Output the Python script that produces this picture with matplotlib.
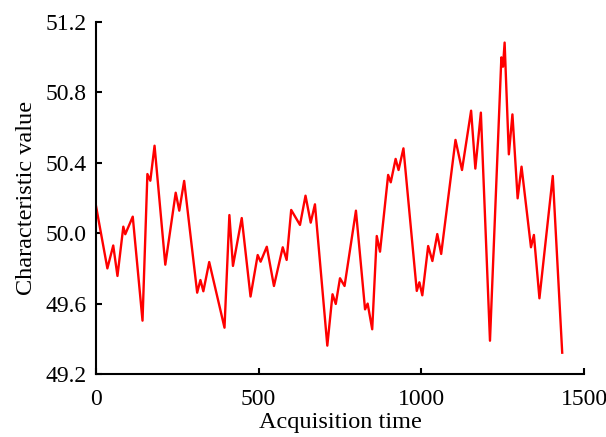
import matplotlib
matplotlib.use('Agg')
from matplotlib import pyplot as plt

# vertices
acq_time = [0, 35, 53, 66, 84, 90, 113, 143, 158, 167, 180, 213, 245, 256,
            271, 311, 321, 330, 348, 395, 410, 421, 448, 475, 497, 506, 525,
            547, 574, 586, 600, 627, 644, 660, 673, 711, 727, 737, 750, 764,
            799, 827, 835, 849, 863, 873, 898, 906, 921, 930, 945, 986, 994,
            1003, 1021, 1034, 1049, 1061, 1105, 1125, 1153, 1166, 1183, 1211,
            1246, 1251, 1256, 1269, 1280, 1296, 1308, 1337, 1346, 1363, 1404,
            1433]
char_value = [50.155, 49.80, 49.93, 49.757, 50.037, 49.994, 50.094, 49.503,
              50.336, 50.298, 50.497, 49.821, 50.23, 50.128, 50.297, 49.662,
              49.734, 49.67, 49.836, 49.463, 50.103, 49.814, 50.086, 49.64,
              49.876, 49.838, 49.923, 49.70, 49.92, 49.848, 50.132, 50.047,
              50.213, 50.06, 50.164, 49.361, 49.653, 49.598, 49.744, 49.70,
              50.128, 49.567, 49.60, 49.454, 49.984, 49.895, 50.331, 50.289,
              50.422, 50.359, 50.482, 49.672, 49.721, 49.647, 49.927, 49.842,
              49.995, 49.882, 50.53, 50.359, 50.696, 50.367, 50.685, 49.389,
              50.999, 50.946, 51.083, 50.448, 50.675, 50.198, 50.378, 49.92,
              49.99, 49.63, 50.325, 49.321]

x_ticks = [0, 500, 1000, 1500]
y_ticks = [49.2, 49.6, 50.0, 50.4, 50.8, 51.2]

plt.rcParams['font.family'] = ['Liberation Serif', 'DejaVu Serif']
plt.rcParams['font.size'] = 17

fig = plt.figure(figsize=(6.06, 4.37), dpi=100)
ax = fig.add_axes([0.1584, 0.1442, 0.8053, 0.8055])

ax.plot(acq_time, char_value, color='#ff0000', linewidth=1.7)

ax.set_xlim(0, 1500)
ax.set_ylim(49.2, 51.2)
ax.set_xticks(x_ticks)
ax.set_yticks(y_ticks)
ax.set_yticklabels([f'{v:.1f}' for v in y_ticks])

ax.spines['top'].set_visible(False)
ax.spines['right'].set_visible(False)
for s in ('left', 'bottom'):
    ax.spines[s].set_linewidth(1.5)
ax.tick_params(direction='in', length=4, width=1.5)
ax.tick_params(axis='x', pad=11)
ax.tick_params(axis='y', pad=7)

ax.set_xlabel('Acquisition time', fontsize=17.5, labelpad=1)
ax.set_ylabel('Characteristic value', fontsize=17.5, labelpad=6)

fig.savefig('out.png', dpi=100)
